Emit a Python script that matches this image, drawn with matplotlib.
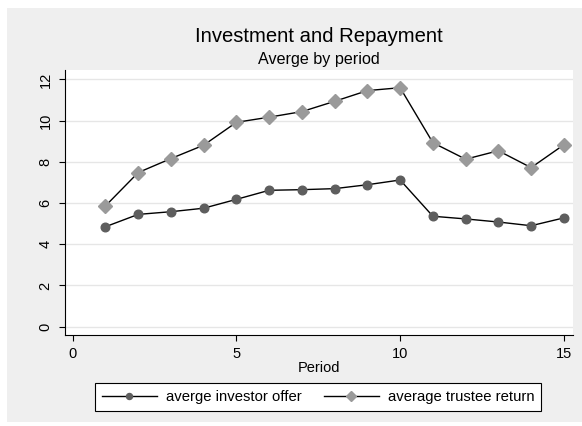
import matplotlib
matplotlib.use("Agg")
import matplotlib.pyplot as plt
from matplotlib.patches import Rectangle

plt.rcParams['font.family'] = ['Liberation Sans', 'DejaVu Sans']

periods = list(range(1, 16))
investor_offer = [4.85, 5.45, 5.58, 5.75, 6.18, 6.62, 6.65, 6.70, 6.89, 7.12,
                  5.36, 5.23, 5.08, 4.90, 5.28]
trustee_return = [5.86, 7.48, 8.16, 8.81, 9.92, 10.17, 10.44, 10.94, 11.46, 11.60,
                  8.93, 8.13, 8.54, 7.72, 8.83]
y_ticks = [0, 2, 4, 6, 8, 10, 12]
x_ticks = [0, 5, 10, 15]

W, H = 582, 426
fig = plt.figure(figsize=(W / 100, H / 100), dpi=100)
fig.patch.set_facecolor('white')
fig.patches.append(Rectangle((7 / W, 4 / H), (W - 7) / W, (H - 8 - 4) / H,
                             transform=fig.transFigure, facecolor='#EFEFEF',
                             edgecolor='none', zorder=-10))

left, right, top, bottom = 64.5, 572.7, 70, 335.3
ax = fig.add_axes([left / W, (H - bottom) / H, (right - left) / W, (bottom - top) / H])
ax.set_facecolor('white')

ax.plot(periods, investor_offer, color='black', lw=1.0, marker='o',
        markersize=6.2, markerfacecolor='#5E5E5E', markeredgecolor='#5E5E5E',
        label='averge investor offer', zorder=3)
ax.plot(periods, trustee_return, color='black', lw=1.0, marker='D',
        markersize=6.8, markerfacecolor='#9A9A9A', markeredgecolor='#9A9A9A',
        label='average trustee return', zorder=3)

ax.set_xlim(-0.25, 15.27)
ax.set_ylim(-0.42, 12.46)
ax.set_xticks(x_ticks)
ax.set_yticks(y_ticks)
ax.set_yticklabels([str(v) for v in y_ticks], rotation=90, va='center')
ax.tick_params(axis='both', direction='out', length=4.5, width=0.8, labelsize=10.5,
               color='black', pad=4)
ax.grid(axis='y', color='#E6E6E6', lw=1.0)
ax.set_axisbelow(True)
for s in ['top', 'right']:
    ax.spines[s].set_visible(False)
for s in ['left', 'bottom']:
    ax.spines[s].set_linewidth(0.8)

ax.set_xlabel('Period', fontsize=10.5, labelpad=0)

cx = ((left + right) / 2) / W
fig.text(cx, (H - 42.3) / H, 'Investment and Repayment', ha='center', va='baseline', fontsize=14.6)
fig.text(cx, (H - 64.3) / H, 'Averge by period', ha='center', va='baseline', fontsize=11.6)

handles, labels = ax.get_legend_handles_labels()
leg = fig.legend(handles, labels, loc='center', ncol=2,
                 bbox_to_anchor=(318 / W, (H - 397) / H),
                 frameon=True, fancybox=False, edgecolor='black', facecolor='white',
                 fontsize=10.7, handlelength=3.7, columnspacing=1.5, handletextpad=0.6,
                 borderpad=0.45, borderaxespad=0, markerscale=0.7, framealpha=1)
leg.get_frame().set_linewidth(0.8)

fig.savefig('out.png', dpi=100)
